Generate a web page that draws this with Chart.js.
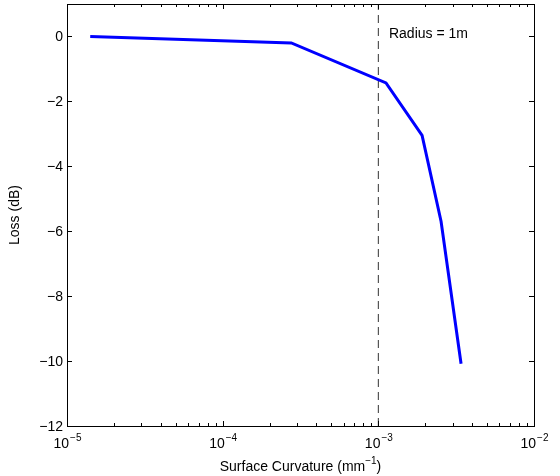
<!DOCTYPE html>
<html>
<head>
<meta charset="utf-8">
<script src="https://cdn.jsdelivr.net/npm/chart.js@4"></script>
<style>
  body { margin: 0; background: #fff; }
  canvas { display: block; }
</style>
</head>
<body>
<canvas id="chart" width="560" height="476"></canvas>
<script>
// data
const curvature = [1.41e-5, 2.76e-4, 1.12e-3, 1.91e-3, 2.53e-3, 3.40e-3];
const loss = [0, -0.2, -1.43, -3.05, -5.7, -10.08];
const markerX = [1e-3, 1e-3];
const markerY = [-12, 1];
const xTicks = [1e-5, 1e-4, 1e-3, 1e-2];
const xTickExp = ['\u22125', '\u22124', '\u22123', '\u22122'];
const yTicks = [-12, -10, -8, -6, -4, -2, 0];

const FONT = 'Liberation Sans, Arial, sans-serif';
const BIG = '14px ' + FONT, SUP = '10px ' + FONT;

const matlabAxes = {
  id: 'matlabAxes',
  afterDraw(chart) {
    const { ctx, chartArea: a, scales } = chart;
    const xs = scales.x, ys = scales.y;
    ctx.save();
    ctx.strokeStyle = '#000';
    ctx.fillStyle = '#000';
    ctx.lineWidth = 1;
    // box
    ctx.strokeRect(Math.round(a.left) + 0.5, Math.round(a.top) + 0.5,
      Math.round(a.right - a.left), Math.round(a.bottom - a.top));

    ctx.beginPath();
    // x major + minor ticks (inward, top and bottom)
    for (let d = 0; d < xTicks.length; d++) {
      for (let m = 1; m <= 9; m++) {
        const v = xTicks[d] * m;
        if (v > xTicks[xTicks.length - 1] * 1.0001) break;
        const px = Math.round(xs.getPixelForValue(v)) + 0.5;
        const len = m === 1 ? 5 : 3;
        ctx.moveTo(px, a.bottom); ctx.lineTo(px, a.bottom - len);
        ctx.moveTo(px, a.top); ctx.lineTo(px, a.top + len);
      }
    }
    // y ticks left and right
    yTicks.forEach(v => {
      const py = Math.round(ys.getPixelForValue(v)) + 0.5;
      ctx.moveTo(a.left, py); ctx.lineTo(a.left + 5, py);
      ctx.moveTo(a.right, py); ctx.lineTo(a.right - 5, py);
    });
    ctx.stroke();

    // y tick labels
    ctx.font = BIG;
    ctx.textAlign = 'right';
    ctx.textBaseline = 'middle';
    yTicks.forEach(v => {
      const lbl = v < 0 ? '\u2212' + Math.abs(v) : String(v);
      ctx.fillText(lbl, a.left - 4, ys.getPixelForValue(v) + 1);
    });

    // x tick labels: 10 with superscript
    xTicks.forEach((v, i) => {
      const px = xs.getPixelForValue(v);
      ctx.font = BIG;
      const wb = ctx.measureText('10').width;
      ctx.font = SUP;
      const we = ctx.measureText(xTickExp[i]).width;
      const x0 = px - (wb + we) / 2;
      ctx.textAlign = 'left';
      ctx.textBaseline = 'alphabetic';
      ctx.font = BIG;
      ctx.fillText('10', x0, a.bottom + 22);
      ctx.font = SUP;
      ctx.fillText(xTickExp[i], x0 + wb + 1, a.bottom + 15);
    });

    // x title with superscript
    ctx.font = BIG;
    const t1 = 'Surface Curvature (mm', t2 = '\u22121', t3 = ')';
    const w1 = ctx.measureText(t1).width, w3 = ctx.measureText(t3).width;
    ctx.font = SUP;
    const w2 = ctx.measureText(t2).width;
    const tx = (a.left + a.right) / 2 - (w1 + w2 + w3) / 2;
    ctx.textAlign = 'left';
    ctx.font = BIG;
    ctx.fillText(t1, tx, a.bottom + 45);
    ctx.font = SUP;
    ctx.fillText(t2, tx + w1, a.bottom + 38);
    ctx.font = BIG;
    ctx.fillText(t3, tx + w1 + w2, a.bottom + 45);

    // y title
    ctx.save();
    ctx.translate(15, (a.top + a.bottom) / 2);
    ctx.rotate(-Math.PI / 2);
    ctx.textAlign = 'center';
    ctx.textBaseline = 'middle';
    ctx.fillText('Loss (dB)', 0, 0);
    ctx.restore();

    // annotation
    ctx.textAlign = 'left';
    ctx.textBaseline = 'middle';
    ctx.fillText('Radius = 1m', xs.getPixelForValue(1.17e-3), ys.getPixelForValue(0.08));
    ctx.restore();
  }
};

new Chart(document.getElementById('chart'), {
  type: 'line',
  data: {
    datasets: [
      {
        data: curvature.map((x, i) => ({ x, y: loss[i] })),
        borderColor: '#0000ff', borderWidth: 3, pointRadius: 0,
        fill: false, tension: 0
      },
      {
        data: markerX.map((x, i) => ({ x, y: markerY[i] })),
        borderColor: '#333', borderWidth: 1, borderDash: [8, 5],
        pointRadius: 0, fill: false
      }
    ]
  },
  options: {
    responsive: false,
    animation: false,
    devicePixelRatio: 1,
    layout: { padding: { left: 67, right: 26, top: 4, bottom: 50 } },
    plugins: { legend: { display: false }, tooltip: { enabled: false } },
    scales: {
      x: { type: 'logarithmic', min: 1e-5, max: 1e-2, display: false },
      y: { type: 'linear', min: -12, max: 1, display: false }
    }
  },
  plugins: [matlabAxes]
});
</script>
</body>
</html>
